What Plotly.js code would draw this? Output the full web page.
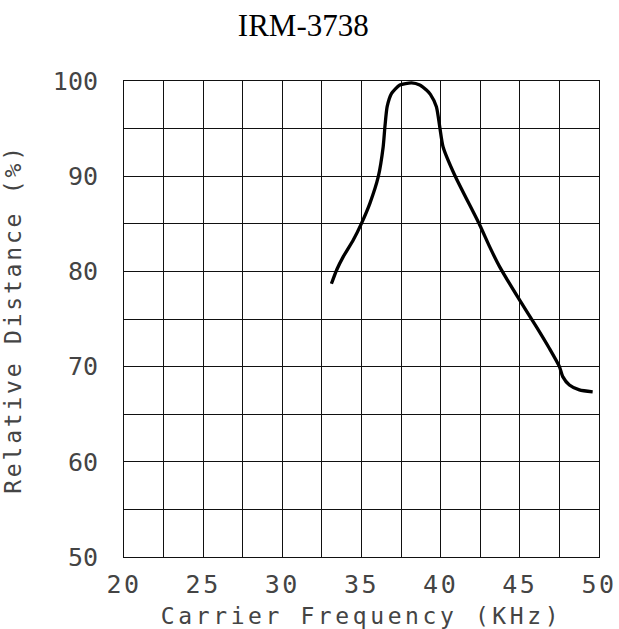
<!DOCTYPE html>
<html>
<head>
<meta charset="utf-8">
<script src="https://cdn.plot.ly/plotly-3.0.1.min.js"></script>
<style>
html,body{margin:0;padding:0;background:#fff;}
#chart{width:619px;height:629px;}
.xtick text{letter-spacing:2.5px;}
.xtitle{letter-spacing:3.6px;}
.ytitle{letter-spacing:2.8px;}
</style>
</head>
<body>
<div id="chart"></div>
<script>
// Data
const chartTitle = "IRM-3738";
const xAxisTitle = "Carrier Frequency (KHz)";
const yAxisTitle = "Relative Distance (%)";
const frequencyKHz = [33.1, 33.43, 33.85, 34.48, 35.0, 35.53, 36.06, 36.37, 36.48, 36.62, 36.9, 37.42, 38.16, 38.68, 39.1, 39.35, 39.73, 39.94, 40.15, 40.89, 42.46, 43.09, 43.72, 44.98, 46.04, 46.87, 47.5, 47.71, 48.13, 48.76, 49.6];
const relativeDistance = [78.7, 80.15, 81.55, 83.3, 85.05, 87.15, 89.95, 93.1, 95.2, 97.3, 98.7, 99.58, 99.8, 99.58, 99.05, 98.6, 97.3, 95.2, 93.1, 90.1, 84.9, 82.6, 80.5, 77.0, 74.2, 71.9, 70.0, 68.95, 68.07, 67.55, 67.35];
const xTickValues = [20, 25, 30, 35, 40, 45, 50];
const yTickValues = [50, 60, 70, 80, 90, 100];

const tickFont = {family: "DejaVu Sans Mono", size: 25, color: "#444"};
const axisTitleFont = {family: "DejaVu Sans Mono", size: 23, color: "#444"};

const trace = {
  x: frequencyKHz,
  y: relativeDistance,
  type: "scatter",
  mode: "lines",
  line: {color: "#000", width: 3.3, shape: "spline", smoothing: 0.6},
  hoverinfo: "skip"
};

const layout = {
  width: 619,
  height: 629,
  margin: {l: 123.5, r: 20, t: 81, b: 72, pad: 0},
  paper_bgcolor: "#fff",
  plot_bgcolor: "#fff",
  showlegend: false,
  title: {
    text: chartTitle,
    font: {family: "Liberation Serif", size: 31, color: "#000"},
    xref: "container", x: 0.49, xanchor: "center",
    yref: "container", y: 1 - 25/629, yanchor: "middle"
  },
  xaxis: {
    range: [20, 50],
    tickmode: "array",
    tickvals: xTickValues,
    ticktext: xTickValues.map(String),
    tickfont: tickFont,
    ticks: "",
    ticklabelstandoff: 5,
    showgrid: true,
    gridcolor: "#111",
    gridwidth: 1,
    minor: {dtick: 2.5, tick0: 20, showgrid: true, gridcolor: "#111", gridwidth: 1, ticks: ""},
    showline: true, linecolor: "#111", linewidth: 1, mirror: true,
    zeroline: false,
    automargin: false,
    fixedrange: true,
    title: {text: xAxisTitle, font: axisTitleFont, standoff: 10}
  },
  yaxis: {
    range: [50, 100],
    tickmode: "array",
    tickvals: yTickValues,
    ticktext: yTickValues.map(String),
    tickfont: tickFont,
    ticks: "",
    ticklabelstandoff: 20,
    showgrid: true,
    gridcolor: "#111",
    gridwidth: 1,
    minor: {dtick: 5, tick0: 50, showgrid: true, gridcolor: "#111", gridwidth: 1, ticks: ""},
    showline: true, linecolor: "#111", linewidth: 1, mirror: true,
    zeroline: false,
    automargin: false,
    fixedrange: true,
    title: {text: yAxisTitle, font: axisTitleFont, standoff: 26}
  }
};

Plotly.newPlot("chart", [trace], layout, {displayModeBar: false, staticPlot: true});
</script>
</body>
</html>
